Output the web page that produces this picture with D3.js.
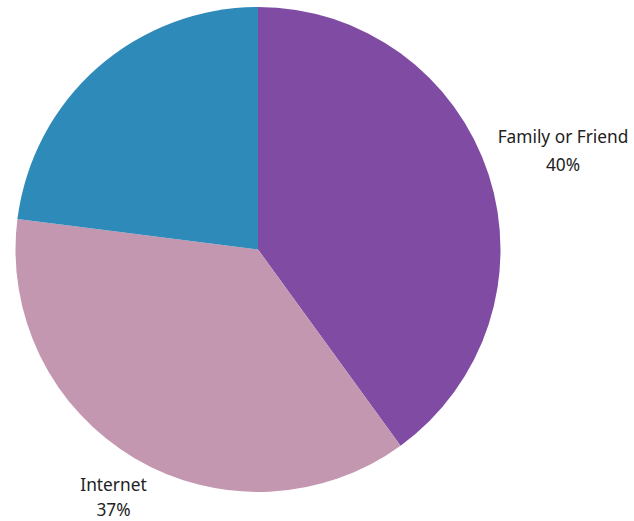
<!DOCTYPE html>
<html><head><meta charset="utf-8">
<script src="https://cdn.jsdelivr.net/npm/d3@7"></script>
<style>body{margin:0;background:#fff}svg{display:block}</style>
</head><body>
<script>
const categories = ["Family or Friend", "Internet", "Other"];
const values = [40, 37, 23];
const labels = ["40%", "37%", null];
const colors = ["#7f4ba3", "#c497b0", "#2d8ab9"];

// ---- layout ----
const W = 634, H = 521;
const cx = 258, cy = 249.5, r = 242.5;
const labelRadius = [1.3225, 1.1707, 1.2];   // distance factor along slice bisector
const labelShift = [-7.4, -3, 0];            // vertical nudge of first line baseline
const lineGap = [28, 25, 26];

const svg = d3.select("body").append("svg").attr("width", W).attr("height", H);
const pie = d3.pie().sort(null).value(d => d)(values);
const arc = d3.arc().innerRadius(0).outerRadius(r);
const g = svg.append("g").attr("transform", `translate(${cx},${cy})`);
g.selectAll("path").data(pie).join("path")
  .attr("d", arc).attr("fill", (d, i) => colors[i]);

const font = "'Noto Sans', sans-serif";
pie.forEach((d, i) => {
  if (!labels[i]) return;
  const a = (d.startAngle + d.endAngle) / 2;
  const k = r * labelRadius[i];
  const x = k * Math.sin(a), y = -k * Math.cos(a) + labelShift[i];
  const t = g.append("text").attr("text-anchor", "middle")
    .attr("font-family", font).attr("font-size", 17.3).attr("fill", "#222");
  t.append("tspan").attr("x", x).attr("y", y).text(categories[i]);
  t.append("tspan").attr("x", x).attr("dy", lineGap[i]).text(labels[i]);
});
</script>
</body></html>
